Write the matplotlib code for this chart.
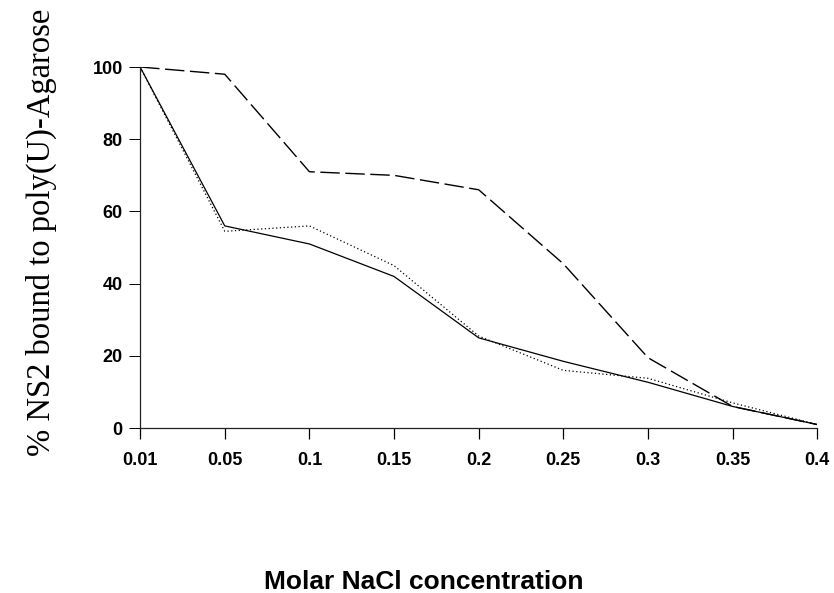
import matplotlib.pyplot as plt
import numpy as np

# salt concentrations (categorical, equally spaced on the axis)
nacl_labels = ['0.01', '0.05', '0.1', '0.15', '0.2', '0.25', '0.3', '0.35', '0.4']

# % bound
solid_vals = [100, 56, 51, 42, 25, 18.5, 12.7, 6, 1]
dotted_vals = [100, 54.5, 56, 45, 25.5, 16, 13.8, 7, 1]
dashed_vals = [100, 98, 71, 70, 66, 45.5, 19.5, 6, 1]

fig = plt.figure(figsize=(8.34, 5.93), dpi=100)
ax = fig.add_axes([0.168, 0.278, 0.812, 0.609])

x = np.arange(len(nacl_labels))
ax.plot(x, solid_vals, color='black', lw=0.9, linestyle='-')
ax.plot(x, dotted_vals, color='black', lw=0.9, linestyle=(0, (1, 2)))
ax.plot(x, dashed_vals, color='black', lw=1.0, linestyle=(0, (14, 4)))

ax.set_xlim(0, len(nacl_labels) - 1)
ax.set_ylim(0, 100)
ax.set_xticks(x)
ax.set_xticklabels(nacl_labels)
ax.set_yticks([0, 20, 40, 60, 80, 100])

for s in ['top', 'right']:
    ax.spines[s].set_visible(False)
for s in ['left', 'bottom']:
    ax.spines[s].set_linewidth(0.9)
    ax.spines[s].set_color('#222222')

ax.tick_params(axis='x', direction='out', length=8, width=0.9, pad=9)
ax.tick_params(axis='y', direction='out', length=8, width=0.7, pad=4.5)
for lab in ax.get_xticklabels() + ax.get_yticklabels():
    lab.set_fontfamily('Liberation Sans')
    lab.set_fontweight('bold')
    lab.set_fontsize(13)

ax.set_ylabel('% NS2 bound to poly(U)-Agarose', fontfamily='Liberation Serif', fontsize=23.5)
ax.yaxis.set_label_coords(-0.122, 0.543)
ax.set_xlabel('Molar NaCl concentration', fontfamily='Liberation Sans',
              fontweight='bold', fontsize=19)
ax.xaxis.set_label_coords(0.419, -0.394)

fig.savefig('out.png', dpi=100)
